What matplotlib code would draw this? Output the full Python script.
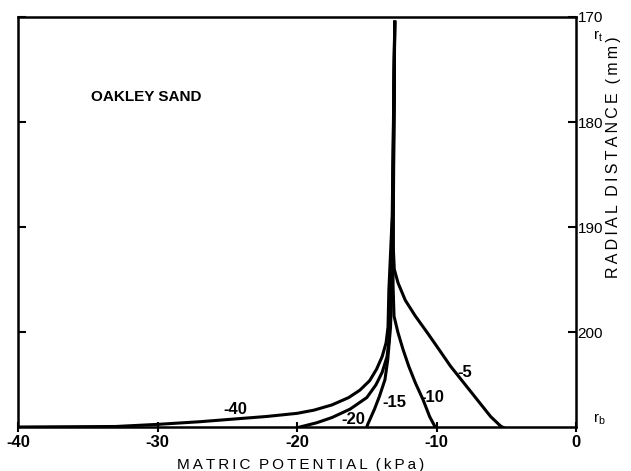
import matplotlib
matplotlib.use("Agg")
from matplotlib import pyplot as plt

# matric potential (kPa) vs radial distance (mm), one curve per boundary value
x_m5 = [-13.0, -13.1, -13.1, -13.03, -12.76, -12.24, -11.52, -10.68, -9.84, -9.01, -8.05,
        -7.09, -6.13, -5.42, -5.0]
r_m5 = [170.5, 189.0, 192.0, 194.0, 195.3, 196.95, 198.45, 200.0, 201.6, 203.2, 204.8,
        206.4, 208.0, 208.9, 209.2]

x_m10 = [-13.0, -13.12, -13.12, -13.05, -12.77, -12.41, -12.0, -11.52, -10.97, -10.5, -10.14, -10.0]
r_m10 = [170.5, 189.0, 195.5, 198.45, 200.0, 201.6, 203.2, 204.8, 206.4, 208.0, 208.9, 209.2]

x_m15 = [-13.0, -13.14, -13.22, -13.3, -13.5, -13.7, -14.1, -14.45, -14.95, -15.05]
r_m15 = [170.5, 189.0, 196.0, 199.5, 202.6, 204.5, 206.1, 207.3, 208.8, 209.2]

x_m20 = [-13.0, -13.16, -13.32, -13.38, -13.55, -13.9, -14.35, -15.0, -16.2, -17.5, -18.6,
         -19.8, -20.0]
r_m20 = [170.5, 189.0, 196.0, 200.4, 202.3, 203.8, 205.0, 206.2, 207.3, 208.1, 208.6,
         209.0, 209.1]

x_m40 = [-13.0, -13.18, -13.42, -13.48, -13.62, -13.9, -14.3, -14.8, -15.5, -16.3, -17.5, -18.8,
         -20.0, -22.2, -24.6, -27.0, -30.0, -33.0, -40.0]
r_m40 = [170.5, 189.0, 196.0, 199.5, 201.0, 202.3, 203.5, 204.6, 205.5, 206.2, 206.9, 207.4,
         207.7, 208.0, 208.25, 208.5, 208.75, 208.95, 209.0]

curve_labels = ["-40", "-20", "-15", "-10", "-5"]
label_x = [-24.4, -16.0, -13.0, -10.3, -7.95]
label_r = [207.3, 208.3, 206.7, 206.2, 203.8]

xticks = [-40, -30, -20, -10, 0]
rticks = [170, 180, 190, 200]

fam = ["Liberation Sans", "DejaVu Sans"]


def spaced(s):
    # widen letter spacing like the typeset original
    return "  ".join("\u2009".join(w) for w in s.split(" "))


fig = plt.figure(figsize=(6.31, 4.71), dpi=100)
ax = fig.add_axes([0.0285, 0.0934, 0.8845, 0.8706])

for xs, rs in [(x_m5, r_m5), (x_m10, r_m10), (x_m15, r_m15), (x_m20, r_m20), (x_m40, r_m40)]:
    ax.plot(xs, rs, color="black", lw=2.2, solid_joinstyle="round")

for lab, lx, lr in zip(curve_labels, label_x, label_r):
    ax.text(lx, lr, lab, fontsize=12, fontweight="bold", ha="center", va="center",
            family=fam)

ax.text(-34.8, 177.6, "OAKLEY SAND", fontsize=11, fontweight="bold", ha="left",
        va="center", family=fam)

ax.set_xlim(-40, 0)
ax.set_ylim(209, 170)

for s in ax.spines.values():
    s.set_linewidth(1.8)

ax.set_xticks(xticks)
ax.set_xticklabels([str(t) for t in xticks], fontsize=12, fontweight="bold", family=fam)
ax.yaxis.tick_right()
ax.set_yticks(rticks)
ax.set_yticklabels([str(t) for t in rticks], fontsize=11, family=fam)
ax.tick_params(axis="both", direction="inout", length=7, width=1.5, pad=2)
ax.tick_params(axis="y", left=True, right=True, direction="in", length=6, pad=1)

# boundary markers
ax.text(1.2, 171.8, "r$_\\mathregular{t}$", fontsize=11, family=fam,
        ha="left", va="center", clip_on=False)
ax.text(1.2, 208.3, "r$_\\mathregular{b}$", fontsize=11, family=fam,
        ha="left", va="center", clip_on=False)

fig.text(0.476, 0.0045, spaced("MATRIC POTENTIAL (kPa)"),
         fontsize=11, ha="center", va="baseline", family=fam)
fig.text(0.972, 0.667, spaced("RADIAL DISTANCE (mm)"), fontsize=11.5, rotation=90,
         ha="center", va="center", family=fam)

fig.savefig("out.png", dpi=100)
